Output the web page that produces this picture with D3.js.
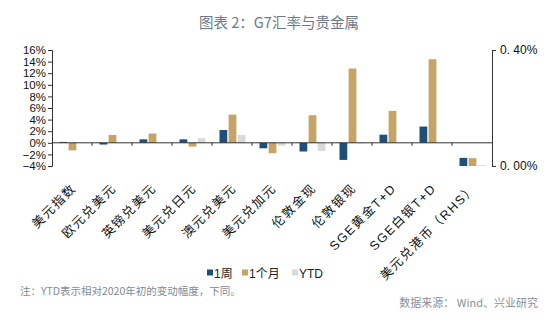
<!DOCTYPE html>
<html><head><meta charset="utf-8">
<script src="https://cdn.jsdelivr.net/npm/d3@7"></script>
<style>
body{margin:0;background:#fff;}
svg{display:block;font-family:"Liberation Sans","Noto Sans CJK SC",sans-serif;}
</style></head>
<body><svg id="c" width="554" height="326"></svg>
<script>
const categories = ["美元指数","欧元兑美元","英镑兑美元","美元兑日元","澳元兑美元","美元兑加元","伦敦金现","伦敦银现","SGE黄金T+D","SGE白银T+D","美元兑港币（RHS）"];
const seriesNames = ["1周","1个月","YTD"];
// values in % (last category on right axis)
const week  = [0.15,-0.3,0.6,0.6,2.2,-0.95,-1.5,-2.95,1.4,2.8,0.028];
const month = [-1.3,1.35,1.6,-0.65,4.85,-1.8,4.75,12.8,5.5,14.4,0.027];
const ytd   = [0,0,0,0.8,1.35,-0.5,-1.4,-0.1,0,0,0.003];
const leftTicks = [-4,-2,0,2,4,6,8,10,12,14,16];
const rightTicks = [0,0.4];
const rhsIndex = 10;
const colors = ["#1f4e79","#c6a466","#d9d9d9"];

const svg = d3.select("#c");
const x0 = 52, x1 = 492, yTop = 50, yBot = 166;
const x = d3.scaleBand().domain(categories).range([x0,x1]).padding(0);
const xs = d3.scaleBand().domain(seriesNames).range([7.5,33.5]).paddingInner(0.15);
const yL = d3.scaleLinear().domain([-4,16]).range([yBot,yTop]);
const yR = d3.scaleLinear().domain([0,0.4]).range([yBot,yTop]);

// title
svg.append("text").attr("x",279).attr("y",28).attr("text-anchor","middle")
  .attr("font-size",14.5).attr("fill","#6b7a8c").attr("font-family","'Noto Sans CJK SC',sans-serif")
  .text("图表 2：G7汇率与贵金属");

// bars
const data = [week,month,ytd];
data.forEach((vals,si)=>{
  svg.append("g").selectAll("rect").data(vals).join("rect")
    .attr("x",(d,i)=>x(categories[i])+xs(seriesNames[si]))
    .attr("width",xs.bandwidth())
    .attr("y",(d,i)=>{const s=i===rhsIndex?yR:yL; return Math.min(s(0),s(d));})
    .attr("height",(d,i)=>{const s=i===rhsIndex?yR:yL; return Math.abs(s(d)-s(0));})
    .attr("fill",colors[si]);
});

// left axis
const gl = svg.append("g").attr("transform",`translate(${x0},0)`)
  .call(d3.axisLeft(yL).tickValues(leftTicks).tickFormat(d=>(d<0?"−":"")+Math.abs(d)+"%").tickSize(4).tickPadding(2));
gl.selectAll("text").attr("font-size",11.5).attr("fill","#111").attr("font-family","'Liberation Sans',Arial,sans-serif");
gl.selectAll("line,path").attr("stroke","#333");

// right axis
const gr = svg.append("g").attr("transform",`translate(${x1},0)`)
  .call(d3.axisRight(yR).tickValues(rightTicks).tickFormat(d=>d3.format(".2f")(d).replace(".",". ")+"%").tickSize(4).tickPadding(4));
gr.selectAll("text").attr("font-size",12).attr("fill","#111").attr("font-family","'Liberation Sans',Arial,sans-serif");
gr.selectAll("line,path").attr("stroke","#333");

// x axis at zero
const gx = svg.append("g").attr("transform",`translate(0,${yL(0)})`);
gx.append("line").attr("x1",x0).attr("x2",x1).attr("stroke","#333");
gx.selectAll("line.t").data(categories.slice(1)).join("line").attr("class","t")
  .attr("x1",d=>x(d)).attr("x2",d=>x(d)).attr("y1",0).attr("y2",3).attr("stroke","#333");

// category labels
svg.append("g").selectAll("text").data(categories).join("text")
  .attr("transform",d=>`translate(${x(d)+x.bandwidth()/2+5},${189}) rotate(-45)`)
  .attr("text-anchor","end").attr("font-size",12.5).attr("letter-spacing",1.6).attr("fill","#111")
  .text(d=>d);

// legend
const lg = svg.append("g").attr("transform","translate(207,273)");
const lx = [0,35,85];
seriesNames.forEach((s,i)=>{
  lg.append("rect").attr("x",lx[i]).attr("y",-3.5).attr("width",6).attr("height",6).attr("fill",colors[i]);
  lg.append("text").attr("x",lx[i]+7).attr("y",4.5).attr("font-size",12).attr("fill","#222").text(s);
});

// notes
svg.append("text").attr("x",20).attr("y",295).attr("font-size",10.5).attr("fill","#7f8a96")
  .attr("font-family","'Noto Sans CJK SC',sans-serif").text("注：YTD表示相对2020年初的变动幅度，下同。");
svg.append("text").attr("x",538).attr("y",307).attr("text-anchor","end").attr("font-size",11).attr("fill","#8a8f96")
  .attr("font-family","'Noto Sans CJK SC',sans-serif").text("数据来源： Wind、兴业研究");
</script></body></html>
